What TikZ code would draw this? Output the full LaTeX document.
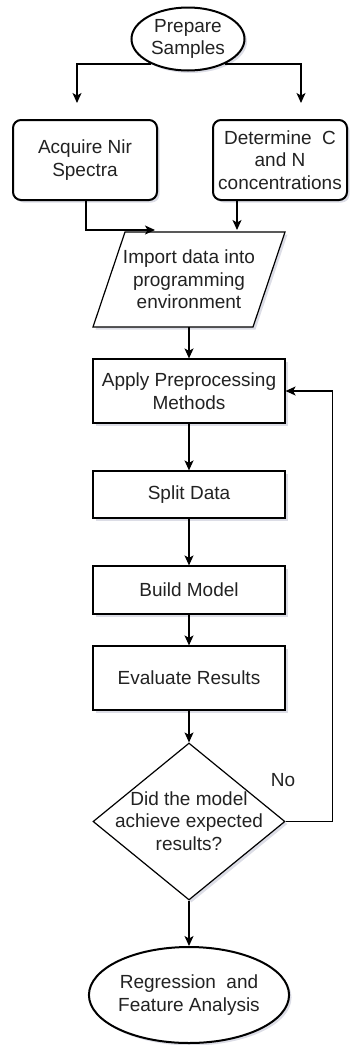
\documentclass[tikz,border=0pt]{standalone}
\usepackage{fontspec}
\setmainfont{Liberation Sans}
\usetikzlibrary{arrows.meta,shapes.geometric,shadows}
\definecolor{txtc}{HTML}{222222}
\definecolor{shd}{HTML}{9A9DB8}
\begin{document}
\begin{tikzpicture}[x=1pt,y=-1pt,
  every node/.style={font=\fontsize{19}{22.5}\selectfont, text=txtc, align=center, inner sep=0pt},
  shad/.style={drop shadow={shadow xshift=2.5pt,shadow yshift=-2.5pt,opacity=0.35,fill=shd}},
  thickov/.style={ellipse, draw=black, line width=2pt, fill=white, shad},
  rbox/.style={rectangle, rounded corners=8pt, draw=black, line width=2pt, fill=white, shad},
  pbox/.style={rectangle, draw=black, line width=1.2pt, fill=white, minimum width=192pt, shad},
  txtnode/.style={draw=none, fill=none},
  arr/.style={line width=1.2pt, draw=black, -{Stealth[length=10pt,width=9pt,inset=2.5pt]}}
]
\useasboundingbox (0,0) rectangle (355,1045);

% top terminator
\node[thickov, minimum width=113pt, minimum height=63pt] (ps) at (188,39) {Prepare\\Samples};

% two rounded boxes
\node[rbox, minimum width=144pt, minimum height=80pt] (acq) at (85,160) {Acquire Nir\\Spectra};
\node[rbox, minimum width=134pt, minimum height=80pt] (det) at (280,160) {Determine\ \ C\\and N\\concentrations};

% parallelogram
\draw[line width=1.2pt, fill=white, shad] (93,327) -- (125,232) -- (285,232) -- (253,327) -- cycle;
\node[txtnode, minimum width=192pt, minimum height=95pt] (imp) at (189,279.5) {Import data into\\programming\\environment};

% process boxes
\node[pbox, minimum height=64pt] (app) at (189,391) {Apply Preprocessing\\Methods};
\node[pbox, minimum height=47pt] (spl) at (189,494.5) {Split Data};
\node[pbox, minimum height=48pt] (bld) at (189,590) {Build Model};
\node[pbox, minimum height=64pt] (evl) at (189,678) {Evaluate Results};

% decision
\node[diamond, draw=black, line width=1.2pt, fill=white, shad, minimum width=192pt, minimum height=157pt] (dec) at (189,821.5) {};
\node[txtnode] (dect) at (189,821) {Did the model\\achieve expected\\results?};

% final terminator
\node[thickov, minimum width=163pt, minimum height=96pt] (fin) at (189,995) {Regression\ \ and\\Feature Analysis};

% connector end points
\coordinate (a1) at (77,103);
\coordinate (a2) at (301,103);
\coordinate (a3) at (155,230);
\coordinate (a4) at (237,230);

% connectors
\draw[arr] (ps.214) -| (a1);
\draw[arr] (ps.-34) -| (a2);
\draw[arr] ([xshift=1pt]acq.south) |- (a3);
\draw[arr] ([xshift=-43pt]det.south) -- (a4);
\draw[arr] (imp.south) -- (app.north);
\draw[arr] (app.south) -- (spl.north);
\draw[arr] (spl.south) -- (bld.north);
\draw[arr] (bld.south) -- (evl.north);
\draw[arr] (evl.south) -- (dec.north);
\draw[arr] (dec.south) -- (fin.north);
\draw[arr] (dec.east) -- ++(47,0) |- (app.east);

\node[txtnode] (no) at (283,780) {No};
\end{tikzpicture}
\end{document}
